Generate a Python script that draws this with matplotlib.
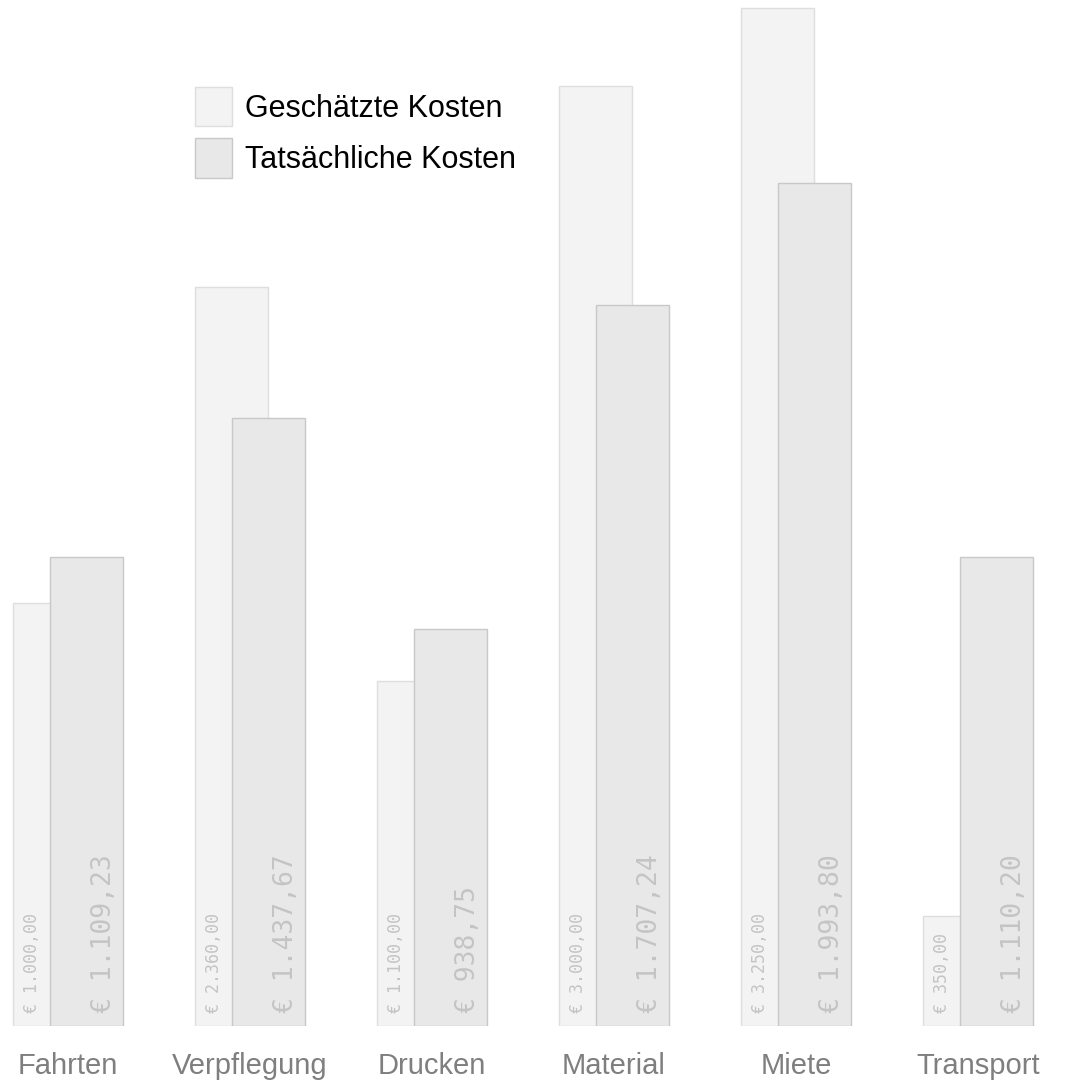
import matplotlib.pyplot as plt
import numpy as np

categories = ['Fahrten', 'Verpflegung', 'Drucken', 'Material', 'Miete', 'Transport']
# bar heights of the estimate series
est_values = [1350, 2360, 1100, 3000, 3250, 350]
# values printed on the estimate bars
est_label_values = [1000, 2360, 1100, 3000, 3250, 350]
act_values = [1109.23, 1437.67, 938.75, 1707.24, 1993.80, 1110.20]


def euro(v):
    s = f'{v:,.2f}'.replace(',', 'X').replace('.', ',').replace('X', '.')
    return '€ ' + s


fig = plt.figure(figsize=(10.65, 10.86), dpi=100)
ax = fig.add_axes([0, 60 / 1086, 1, 1026 / 1086])
ax2 = ax.twinx()

x = np.arange(len(categories))
w = 0.4

b1 = ax.bar(x - 0.1, est_values, w, color='#f3f3f3', edgecolor='#dedede', linewidth=1)
b2 = ax2.bar(x + 0.1, act_values, w, color='#e8e8e8', edgecolor='#c8c8c8', linewidth=1)

ax.set_xlim(-68 / 182, (1065 - 68) / 182)
ax.set_ylim(0, 3275)
ax2.set_ylim(0, 2428)

for i in range(len(categories)):
    ax.annotate(euro(est_label_values[i]), xy=(x[i] - 0.2, 0), xytext=(0, 9.4),
                textcoords='offset points', rotation=90, ha='center', va='bottom',
                fontsize=12, color='#c4c4c4', family='DejaVu Sans Mono')
    ax2.annotate(euro(act_values[i]), xy=(x[i] + 0.2, 0), xytext=(0, 9.4),
                 textcoords='offset points', rotation=90, ha='center', va='bottom',
                 fontsize=19, color='#c4c4c4', family='DejaVu Sans Mono')

for a in (ax, ax2):
    for s in a.spines.values():
        s.set_visible(False)
    a.set_yticks([])
    a.tick_params(length=0)
    a.patch.set_visible(False)

ax.set_xticks(x)
ax.set_xticklabels(categories, fontsize=21, color='#7f7f7f', family='Liberation Sans')
ax.tick_params(axis='x', pad=19)

fig.legend([b1, b2], ['Geschätzte Kosten', 'Tatsächliche Kosten'],
           loc='upper left', bbox_to_anchor=(195 / 1065, 1 - 87 / 1086),
           frameon=False, prop={'family': 'Liberation Sans', 'size': 22},
           handlelength=1.2, handleheight=1.6, handletextpad=0.45,
           labelspacing=0.4, borderpad=0, borderaxespad=0)

fig.savefig('out.png', dpi=100)
